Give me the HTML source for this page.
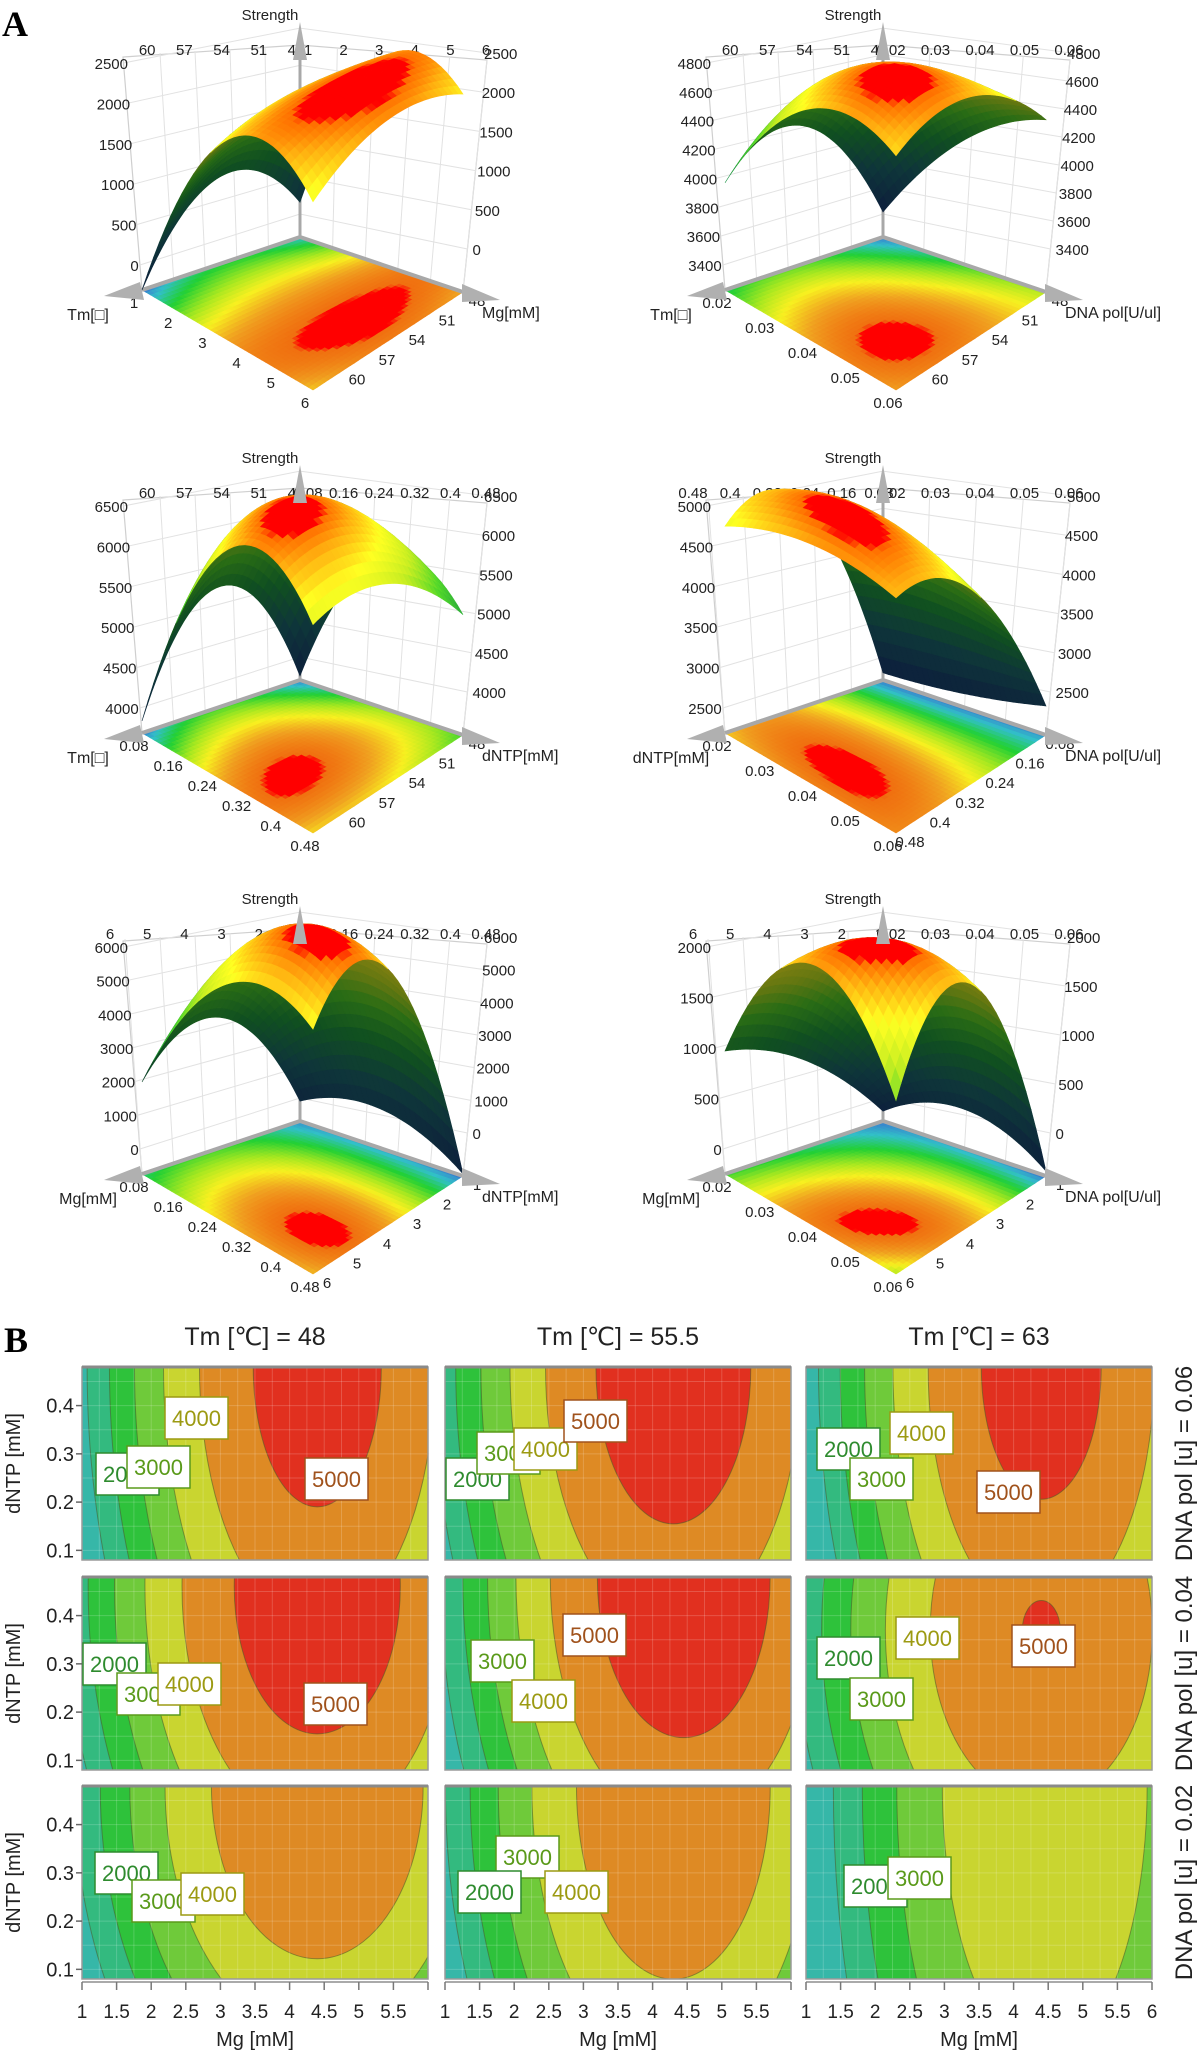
<!DOCTYPE html>
<html><head><meta charset="utf-8">
<style>
html,body{margin:0;padding:0;background:#fff;overflow:hidden;width:1200px;height:2056px;}
svg{display:block;font-family:"Liberation Sans",sans-serif;overflow:hidden;}
</style></head>
<body>
<svg id="fig" width="1200" height="2056" viewBox="0 0 1200 2056">
<rect x="0" y="0" width="1200" height="2056" fill="#fff"/>
<text x="2" y="36" font-family="Liberation Serif" font-weight="bold" font-size="36">A</text>
<text x="4" y="1352" font-family="Liberation Serif" font-weight="bold" font-size="36">B</text>
<g id="partA"></g>
<g id="partB"></g>
</svg>
<script>
// ---------- Panel A data ----------
const tmTicks = [48, 51, 54, 57, 60];
const mgTicks = [1, 2, 3, 4, 5, 6];
const dntpTicks = [0.08, 0.16, 0.24, 0.32, 0.4, 0.48];
const polTicks = [0.02, 0.03, 0.04, 0.05, 0.06];
const z1Ticks = [0, 500, 1000, 1500, 2000, 2500];
const z2Ticks = [3400, 3600, 3800, 4000, 4200, 4400, 4600, 4800];
const z3Ticks = [4000, 4500, 5000, 5500, 6000, 6500];
const z4Ticks = [2500, 3000, 3500, 4000, 4500, 5000];
const z5Ticks = [0, 1000, 2000, 3000, 4000, 5000, 6000];
const z6Ticks = [0, 500, 1000, 1500, 2000];
// response grids (rows: u = 0, .5, 1 ; cols: v = 0, .5, 1)
const grid1 = [[120, 2240, 2140], [770, 2350, 2430], [-310, 2170, 2020]];
const grid2 = [[3400, 4090, 4420], [4180, 4880, 4920], [3970, 4830, 4850]];
const grid3 = [[3740, 5550, 5180], [5180, 6790, 6170], [3840, 6580, 6270]];
const grid4 = [[2280, 2360, 2550], [4700, 4950, 4600], [4750, 5150, 5100]];
const grid5 = [[-150, 420, -680], [3120, 6680, 6860], [1990, 6390, 6530]];
const grid6 = [[-150, 140, -200], [620, 2030, 2140], [970, 2330, 1470]];

// ---------- Panel B data ----------
const tmLevels = ['48', '55.5', '63'];
const polLevels = ['0.06', '0.04', '0.02'];
const contourLevels = [0, 1000, 2000, 3000, 4000, 5000];
const peakValue = [[5420, 5580, 5390], [5605, 5722, 5030], [4936, 4882, 3920]];
const peakMg = [[4.4, 4.3, 4.4], [4.4, 4.45, 4.4], [4.4, 4.3, 4.45]];
const peakDntp = [[0.48, 0.48, 0.48], [0.46, 0.48, 0.37], [0.48, 0.48, 0.48]];
const curvMg = [[490, 463, 520], [420, 463, 400], [400, 450, 420]];
const curvDntp = [[5000, 5490, 5190], [6500, 6510, 8000], [7300, 5500, 3000]];
const mgTickLabels = ['1', '1.5', '2', '2.5', '3', '3.5', '4', '4.5', '5', '5.5', '6'];
const dntpTickLabels = ['0.1', '0.2', '0.3', '0.4'];

const NS = document.getElementById('fig').namespaceURI;
function mk(tag, parent, attrs) {
  const e = document.createElementNS(NS, tag);
  for (const k in attrs) e.setAttribute(k, attrs[k]);
  parent.appendChild(e);
  return e;
}
function hex(c){return [parseInt(c.slice(1,3),16),parseInt(c.slice(3,5),16),parseInt(c.slice(5,7),16)];}
function cmap(stops, t, f) {
  t = Math.max(0, Math.min(1, t));
  let i = 0;
  while (i < stops.length - 2 && t > stops[i + 1][0]) i++;
  const a = stops[i], b = stops[i + 1];
  const s = (t - a[0]) / (b[0] - a[0] || 1);
  const ca = hex(a[1]), cb = hex(b[1]);
  const c = ca.map((x, k) => Math.round((x + (cb[k] - x) * s) * (f || 1)));
  return 'rgb(' + c.join(',') + ')';
}
const surfStops = [[0,'#1a3c78'],[0.22,'#1d6a74'],[0.42,'#21a040'],[0.58,'#52d82a'],[0.72,'#c8ee22'],[0.84,'#ffff22'],[0.93,'#ffb010'],[0.975,'#ff7000'],[0.98,'#ff0000'],[1,'#ff0000']];
const floorStops = [[0,'#3a6fd0'],[0.2,'#32c0c8'],[0.4,'#22d034'],[0.6,'#a8e820'],[0.74,'#f8f020'],[0.87,'#f0a020'],[0.975,'#f07010'],[0.98,'#ff0000'],[1,'#ff0000']];

const GB = [300, 237], GL = [142, 290], GR = [463, 292], GF = [313, 390];
function floorPt(u, v) {
  const w = [(1-u)*(1-v), u*(1-v), (1-u)*v, u*v];
  return [w[0]*GB[0]+w[1]*GL[0]+w[2]*GR[0]+w[3]*GF[0], w[0]*GB[1]+w[1]*GL[1]+w[2]*GR[1]+w[3]*GF[1]];
}
function lag(t){return [2*(t-0.5)*(t-1), -4*t*(t-1), 2*t*(t-0.5)];}
function zAt(g, u, v){const a=lag(u), b=lag(v); let s=0; for(let i=0;i<3;i++)for(let j=0;j<3;j++) s+=a[i]*b[j]*g[i][j]; return s;}
function fmt(v){return String(+v.toFixed(3));}

const plots = [
  {ox:0, oy:0, grid:grid1, z:z1Ticks, u:{t:'Tm[\u25a1]',min:48,max:63,ticks:tmTicks}, v:{t:'Mg[mM]',min:1,max:6,ticks:mgTicks}},
  {ox:583, oy:0, grid:grid2, z:z2Ticks, u:{t:'Tm[\u25a1]',min:48,max:63,ticks:tmTicks}, v:{t:'DNA pol[U/ul]',min:0.02,max:0.06,ticks:polTicks}},
  {ox:0, oy:443, grid:grid3, z:z3Ticks, u:{t:'Tm[\u25a1]',min:48,max:63,ticks:tmTicks}, v:{t:'dNTP[mM]',min:0.08,max:0.48,ticks:dntpTicks}},
  {ox:583, oy:443, grid:grid4, z:z4Ticks, u:{t:'dNTP[mM]',min:0.08,max:0.48,ticks:dntpTicks}, v:{t:'DNA pol[U/ul]',min:0.02,max:0.06,ticks:polTicks}},
  {ox:0, oy:884, grid:grid5, z:z5Ticks, u:{t:'Mg[mM]',min:1,max:6,ticks:mgTicks}, v:{t:'dNTP[mM]',min:0.08,max:0.48,ticks:dntpTicks}},
  {ox:583, oy:884, grid:grid6, z:z6Ticks, u:{t:'Mg[mM]',min:1,max:6,ticks:mgTicks}, v:{t:'DNA pol[U/ul]',min:0.02,max:0.06,ticks:polTicks}}
];
const partA = document.getElementById('partA');

plots.forEach((p, pi) => {
  const g = mk('g', partA, {transform: 'translate(' + p.ox + ',' + p.oy + ')'});
  
  
  const z0 = p.z[0], z1 = p.z[p.z.length - 1];
  const hOf = z => 25 + (z - z0) / (z1 - z0) * 202;
  const N = 30, NF = 40;
  let zmin = Infinity, zmax = -Infinity;
  for (let i = 0; i <= N; i++) for (let j = 0; j <= N; j++) { const z = zAt(p.grid, i/N, j/N); zmin = Math.min(zmin, z); zmax = Math.max(zmax, z); }
  const tOf = z => (z - zmin) / (zmax - zmin);
  const walls = mk('g', g, {});
  
  
  const wl = mk('polygon', walls, {points: '142,290 123,57 300,45 300,237', fill: '#fff', stroke: '#cfcfcf', 'stroke-width': 1.2});
  
  
  const wr = mk('polygon', walls, {points: '300,237 300,45 487,60 463,292', fill: '#fff', stroke: '#cfcfcf', 'stroke-width': 1.2});
  
  
  p.z.forEach((zv, k) => {
    const h = 25 + k / (p.z.length - 1) * 202;
    const hr = 43 + k / (p.z.length - 1) * 196;
    const ln = mk('polyline', walls, {points: (142 - 19*(h/233)) + ',' + (290 - h) + ' 300,' + (237 - h*0.92) + ' ' + (463 + 24*(hr/232)) + ',' + (292 - hr), fill: 'none', stroke: '#e2e2e2', 'stroke-width': 1});
    
    
    const tl = mk('text', g, {x: 140 - 12*(h/227), y: 290 - h + 6, 'text-anchor': 'end', 'font-size': 15, fill: '#222'});
    tl.textContent = fmt(zv);
    
    
    const tr = mk('text', g, {x: 470 + 14*(hr/239), y: 292 - hr + 6, 'text-anchor': 'start', 'font-size': 15, fill: '#222'});
    tr.textContent = fmt(zv);
    
    
  });
  p.u.ticks.forEach(val => {
    const t = (val - p.u.min) / (p.u.max - p.u.min);
    const a = floorPt(t, 0);
    const ln = mk('line', walls, {x1: a[0], y1: a[1], x2: 300 - t*175, y2: 45 + t*10, stroke: '#e2e2e2', 'stroke-width': 1});
    
    
    const lb = mk('text', g, {x: 296 - t*186, y: 55, 'text-anchor': 'middle', 'font-size': 15, fill: '#222'});
    lb.textContent = fmt(val);
    
    
    const e = [GR[0] + t*(GF[0]-GR[0]) + 14, GR[1] + t*(GF[1]-GR[1]) + 14];
    const fl = mk('text', g, {x: e[0], y: e[1], 'text-anchor': 'middle', 'font-size': 15, fill: '#222'});
    fl.textContent = fmt(val);
    
    
  });
  p.v.ticks.forEach(val => {
    const t = (val - p.v.min) / (p.v.max - p.v.min);
    const a = floorPt(0, t);
    const ln = mk('line', walls, {x1: a[0], y1: a[1], x2: 300 + t*187, y2: 45 + t*15, stroke: '#e2e2e2', 'stroke-width': 1});
    
    
    const lb = mk('text', g, {x: 308 + t*178, y: 55, 'text-anchor': 'middle', 'font-size': 15, fill: '#222'});
    lb.textContent = fmt(val);
    
    
    const e = [GL[0] + t*(GF[0]-GL[0]) - 8, GL[1] + t*(GF[1]-GL[1]) + 18];
    const fl = mk('text', g, {x: e[0], y: e[1], 'text-anchor': 'middle', 'font-size': 15, fill: '#222'});
    fl.textContent = fmt(val);
    
    
  });
  const fg = mk('g', g, {});
  
  
  for (let i = 0; i < NF; i++) for (let j = 0; j < NF; j++) {
    const u0 = i/NF, u1 = (i+1)/NF, v0 = j/NF, v1 = (j+1)/NF;
    const pts = [floorPt(u0,v0), floorPt(u1,v0), floorPt(u1,v1), floorPt(u0,v1)];
    const c = cmap(floorStops, tOf(zAt(p.grid, (u0+u1)/2, (v0+v1)/2)));
    const q = mk('polygon', fg, {points: pts.map(a => a[0].toFixed(1) + ',' + a[1].toFixed(1)).join(' '), fill: c, stroke: c, 'stroke-width': 0.6});
    
    
  }
  const ax1 = mk('line', g, {x1: 300, y1: 237, x2: GL[0], y2: GL[1], stroke: '#a8a8a8', 'stroke-width': 4});
  
  
  const ax2 = mk('line', g, {x1: 300, y1: 237, x2: GR[0], y2: GR[1], stroke: '#a8a8a8', 'stroke-width': 4});
  
  
  const ax3 = mk('line', g, {x1: 300, y1: 237, x2: 300, y2: 40, stroke: '#a8a8a8', 'stroke-width': 3});
  
  
  const sg = mk('g', g, {});
  
  
  const quads = [];
  for (let i = 0; i < N; i++) for (let j = 0; j < N; j++) quads.push([i, j]);
  quads.sort((a, b) => (a[0] + a[1]) - (b[0] + b[1]));
  const S = (u, v) => { const f = floorPt(u, v); return [f[0], f[1] - hOf(zAt(p.grid, u, v))]; };
  quads.forEach(([i, j]) => {
    const u0 = i/N, u1 = (i+1)/N, v0 = j/N, v1 = (j+1)/N;
    const pts = [S(u0,v0), S(u1,v0), S(u1,v1), S(u0,v1)];
    const d1 = [pts[2][0]-pts[0][0], pts[2][1]-pts[0][1]], d2 = [pts[3][0]-pts[1][0], pts[3][1]-pts[1][1]];
    const cr = d1[0]*d2[1] - d1[1]*d2[0];
    const top = cr < 0;
    const c = cmap(surfStops, tOf(zAt(p.grid, (u0+u1)/2, (v0+v1)/2)), top ? 1 : 0.5);
    const q = mk('polygon', sg, {points: pts.map(a => a[0].toFixed(1) + ',' + a[1].toFixed(1)).join(' '), fill: c, stroke: c, 'stroke-width': 0.6});
    
    
  });
  const a1 = mk('polygon', g, {points: '300,22 293,60 307,60', fill: '#b0b0b0'});
  
  
  const a2 = mk('polygon', g, {points: '104,296 140,282 144,300', fill: '#b0b0b0'});
  
  
  const a3 = mk('polygon', g, {points: '500,300 462,284 462,302', fill: '#b0b0b0'});
  
  
  const st = mk('text', g, {x: 270, y: 20, 'text-anchor': 'middle', 'font-size': 15, fill: '#222'});
  st.textContent = 'Strength';
  
  
  const ut = mk('text', g, {x: 88, y: 320, 'text-anchor': 'middle', 'font-size': 16, fill: '#222'});
  ut.textContent = p.u.t;
  
  
  const vt = mk('text', g, {x: 482, y: 318, 'text-anchor': 'start', 'font-size': 16, fill: '#222'});
  vt.textContent = p.v.t;
  
  
});

// ---------- Panel B ----------
const partB = document.getElementById('partB');
const colX = [82, 445, 806], rowY = [1367, 1577, 1786], PW = 346, PH = 193;
const bandColors = ['#36b7a8', '#33ba7f', '#2ec23b', '#6fca3a', '#c9d530', '#de8a24', '#e1301f'];
const labelColors = {2000: '#2e8b2e', 3000: '#5a9a1a', 4000: '#9c9a12', 5000: '#a0521c'};
const labelLayout = [
  [[[165,1397,4000],[96,1453,2000],[127,1446,3000],[305,1458,5000]],
   [[446,1458,2000],[477,1432,3000],[514,1428,4000],[564,1400,5000]],
   [[817,1428,2000],[850,1458,3000],[890,1412,4000],[977,1471,5000]]],
  [[[83,1643,2000],[117,1673,3000],[158,1663,4000],[304,1683,5000]],
   [[471,1640,3000],[512,1680,4000],[563,1614,5000]],
   [[817,1637,2000],[850,1678,3000],[896,1617,4000],[1012,1625,5000]]],
  [[[95,1852,2000],[132,1880,3000],[181,1873,4000]],
   [[496,1836,3000],[458,1871,2000],[545,1871,4000]],
   [[844,1865,2000],[888,1857,3000]]]
];
const defs = mk('defs', partB, {});
for (let r = 0; r < 3; r++) for (let c = 0; c < 3; c++) {
  const x0 = colX[c], y0 = rowY[r];
  const xs = m => x0 + (m - 1) / 5 * PW;
  const ys = d => y0 + (0.48 - d) / 0.4 * PH;
  const cp = mk('clipPath', defs, {id: 'clip' + r + c});
  mk('rect', cp, {x: x0, y: y0, width: PW, height: PH});
  const g = mk('g', partB, {'clip-path': 'url(#clip' + r + c + ')'});
  
  
  const bg = mk('rect', g, {x: x0, y: y0, width: PW, height: PH, fill: bandColors[0]});
  
  
  contourLevels.forEach((L, k) => {
    const P = peakValue[r][c];
    if (P <= L) return;
    const rx = Math.sqrt((P - L) / curvMg[r][c]) * PW / 5;
    const ry = Math.sqrt((P - L) / curvDntp[r][c]) * PH / 0.4;
    const e = mk('ellipse', g, {cx: xs(peakMg[r][c]), cy: ys(peakDntp[r][c]), rx: rx, ry: ry, fill: bandColors[k + 1], stroke: '#4a5a2a', 'stroke-opacity': 0.55, 'stroke-width': 1});
    
    
  });
  for (let m = 1.25; m < 6; m += 0.25) {
    const gl = mk('line', g, {x1: xs(m), y1: y0, x2: xs(m), y2: y0 + PH, stroke: '#fff', 'stroke-opacity': 0.18, 'stroke-width': 1});
    
    
  }
  for (let d = 0.1; d < 0.48; d += 0.05) {
    const gl = mk('line', g, {x1: x0, y1: ys(d), x2: x0 + PW, y2: ys(d), stroke: '#fff', 'stroke-opacity': 0.18, 'stroke-width': 1});
    
    
  }
  const fr = mk('rect', partB, {x: x0, y: y0, width: PW, height: PH, fill: 'none', stroke: '#9a9a9a', 'stroke-width': 1.5});
  
  
  const tb = mk('line', partB, {x1: x0, y1: y0, x2: x0 + PW, y2: y0, stroke: '#8a8a8a', 'stroke-width': 3});
  
  
  labelLayout[r][c].forEach(([lx, ly, val]) => {
    const lg = mk('g', partB, {});
    
    
    mk('rect', lg, {x: lx, y: ly, width: 63, height: 42, fill: '#fff', stroke: labelColors[val], 'stroke-width': 1.5});
    const t = mk('text', lg, {x: lx + 31.5, y: ly + 29, 'text-anchor': 'middle', 'font-size': 22, fill: labelColors[val]});
    t.textContent = String(val);
  });
  if (c === 0) {
    dntpTickLabels.forEach(s => {
      const y = ys(parseFloat(s));
      const tk = mk('line', partB, {x1: x0 - 6, y1: y, x2: x0, y2: y, stroke: '#666', 'stroke-width': 1.5});
      
      
      const tl = mk('text', partB, {x: x0 - 8, y: y + 7, 'text-anchor': 'end', 'font-size': 20, fill: '#222'});
      tl.textContent = s;
      
      
    });
    const yt = mk('text', partB, {x: 0, y: 0, transform: 'translate(20,' + (y0 + PH / 2) + ') rotate(-90)', 'text-anchor': 'middle', 'font-size': 20, fill: '#222'});
    yt.textContent = 'dNTP [mM]';
    
    
  }
  if (r === 0) {
    const tt = mk('text', partB, {x: x0 + PW / 2, y: 1345, 'text-anchor': 'middle', 'font-size': 25, fill: '#222'});
    tt.textContent = 'Tm [\u2103] = ' + tmLevels[c];
    
    
  }
  if (c === 2) {
    const rt = mk('text', partB, {x: 0, y: 0, transform: 'translate(1192,' + (y0 + PH / 2) + ') rotate(-90)', 'text-anchor': 'middle', 'font-size': 24, fill: '#222'});
    rt.textContent = 'DNA pol [u] = ' + polLevels[r];
    
    
  }
  if (r === 2) {
    const ax = mk('line', partB, {x1: x0, y1: 1982, x2: x0 + PW, y2: 1982, stroke: '#aaa', 'stroke-width': 2});
    
    
    mgTickLabels.forEach((s, k) => {
      const m = parseFloat(s);
      const x = xs(m);
      const tk = mk('line', partB, {x1: x, y1: 1982, x2: x, y2: 1990, stroke: '#777', 'stroke-width': 1.5});
      
      
      if (m === 6 && c < 2) return;
      const tl = mk('text', partB, {x: x, y: 2018, 'text-anchor': 'middle', 'font-size': 19, fill: '#222'});
      tl.textContent = s;
      
      
    });
    const xt = mk('text', partB, {x: x0 + PW / 2, y: 2046, 'text-anchor': 'middle', 'font-size': 20, fill: '#222'});
    xt.textContent = 'Mg [mM]';
    
    
  }
}
</script>
</body></html>
